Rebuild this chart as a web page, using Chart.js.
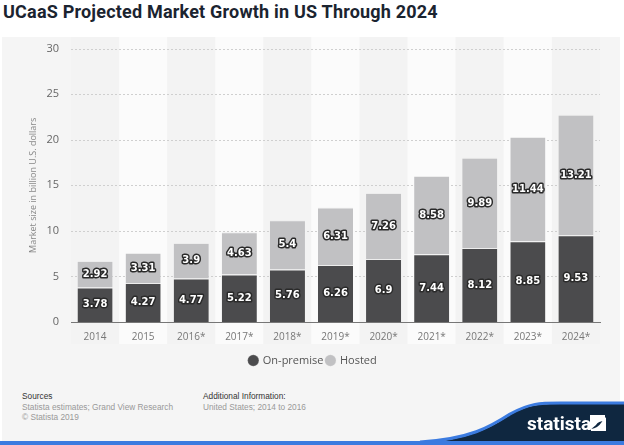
<!DOCTYPE html>
<html>
<head>
<meta charset="utf-8">
<script src="https://cdn.jsdelivr.net/npm/chart.js@4"></script>
<style>
  body { margin: 0; width: 624px; height: 445px; background: #fff; position: relative; overflow: hidden; font-family: "Open Sans", sans-serif; }
  #title { position: absolute; left: 3px; top: 1px; font: bold 18px Roboto, sans-serif; color: #1b2430; letter-spacing: 0.2px; }
  #panel { position: absolute; left: 2px; top: 37px; width: 618px; height: 408px; background: #f5f5f5; }
  #wrap { position: absolute; left: 2px; top: 30px; width: 618px; height: 346px; }
  .foot { position: absolute; font: 8.3px "Liberation Sans", sans-serif; line-height: 10.5px; color: #999; }
  .foot b { font-weight: normal; color: #333; }
  #bar { position: absolute; left: 0; top: 441px; width: 624px; height: 4px; background: #3b7be0; }
  #logo { position: absolute; left: 0; top: 0; }
</style>
</head>
<body>
<div id="title">UCaaS Projected Market Growth in US Through 2024</div>
<div id="panel"></div>
<div id="wrap"><canvas id="chart"></canvas></div>
<div class="foot" style="left:22px; top:391px;"><b>Sources</b><br>Statista estimates; Grand View Research<br>© Statista 2019</div>
<div class="foot" style="left:203px; top:391px;"><b>Additional Information:</b><br>United States; 2014 to 2016</div>
<svg id="logo" width="624" height="445">
  <path d="M420 443 C470 440 490 428 510 415 C530 404 540 404 560 404 L624 404 L624 443 Z" fill="#0f2740"/>
  <path d="M420 442 C470 439 490 427 510 414 C530 403 540 403 560 403 L624 403" fill="none" stroke="#3b7be0" stroke-width="3"/>
  <text x="527" y="430" fill="#fff" font-family="Roboto, sans-serif" font-weight="bold" font-size="19">statista</text>
  <path d="M590 415 L605 415 L605 421 Q598 421 596 425 L590 430 Z M606 417 L606 431 L591 431 L591 429 Q598 428 601 423 Z" fill="#fff"/>
</svg>
<div id="bar"></div>
<script>
const categories = ['2014', '2015', '2016*', '2017*', '2018*', '2019*', '2020*', '2021*', '2022*', '2023*', '2024*'];
const onPremise = [3.78, 4.27, 4.77, 5.22, 5.76, 6.26, 6.9, 7.44, 8.12, 8.85, 9.53];
const hosted = [2.92, 3.31, 3.9, 4.63, 5.4, 6.31, 7.26, 8.58, 9.89, 11.44, 13.21];
const yTicks = [0, 5, 10, 15, 20, 25, 30];

// alternating column shading, drawn before the axes and grid
const bandPlugin = {
    id: 'bands',
    beforeDraw(chart) {
        const ctx = chart.ctx;
        const x = chart.scales.x;
        const area = chart.chartArea;
        const w = x.width / categories.length;
        ctx.save();
        categories.forEach((c, i) => {
            ctx.fillStyle = i % 2 ? '#fbfbfb' : '#f3f3f3';
            ctx.fillRect(x.getPixelForValue(i) - w / 2, 7, w, area.bottom + 15);
        });
        ctx.restore();
    }
};

// dotted horizontal guide lines at each tick
const gridPlugin = {
    id: 'dotGrid',
    beforeDatasetsDraw(chart) {
        const ctx = chart.ctx;
        const y = chart.scales.y;
        const area = chart.chartArea;
        ctx.save();
        ctx.strokeStyle = '#cfcfcf';
        ctx.lineWidth = 1;
        ctx.setLineDash([2, 2]);
        yTicks.slice(1).forEach(v => {
            const py = Math.round(y.getPixelForValue(v)) + 0.5;
            ctx.beginPath();
            ctx.moveTo(area.left, py);
            ctx.lineTo(area.right, py);
            ctx.stroke();
        });
        ctx.restore();
    }
};

// white value labels with dark outline in each segment
const labelPlugin = {
    id: 'barLabels',
    afterDatasetsDraw(chart) {
        const ctx = chart.ctx;
        ctx.save();
        ctx.font = 'bold 10px "DejaVu Sans", sans-serif';
        ctx.textAlign = 'center';
        ctx.textBaseline = 'middle';
        ctx.lineJoin = 'round';
        chart.data.datasets.forEach((ds, di) => {
            chart.getDatasetMeta(di).data.forEach((bar, i) => {
                const y = (bar.y + bar.base) / 2;
                ctx.lineWidth = 3;
                ctx.strokeStyle = '#2a2a2a';
                ctx.strokeText(String(ds.data[i]), bar.x, y);
                ctx.fillStyle = '#fff';
                ctx.fillText(String(ds.data[i]), bar.x, y);
            });
        });
        ctx.restore();
    }
};

new Chart(document.getElementById('chart'), {
    type: 'bar',
    data: {
        labels: categories,
        datasets: [{
            label: 'On-premise',
            data: onPremise,
            backgroundColor: '#4b4b4d',
            borderColor: '#ededed',
            borderWidth: { top: 1, left: 0, right: 0, bottom: 0 },
            barPercentage: 0.73,
            categoryPercentage: 1
        }, {
            label: 'Hosted',
            data: hosted,
            backgroundColor: '#c1c1c3',
            borderColor: '#ededed',
            borderWidth: { top: 1, left: 0, right: 0, bottom: 0 },
            barPercentage: 0.73,
            categoryPercentage: 1
        }]
    },
    options: {
        responsive: true,
        maintainAspectRatio: false,
        animation: false,
        layout: { padding: { left: 24, right: 20, top: 3, bottom: 0 } },
        scales: {
            x: {
                stacked: true,
                grid: { display: false, drawTicks: false },
                border: { display: true, color: '#777', width: 1 },
                ticks: { color: '#777', font: { family: 'Open Sans', size: 10 }, padding: 9 }
            },
            y: {
                stacked: true,
                min: 0,
                max: 30,
                afterBuildTicks: s => { s.ticks = yTicks.map(v => ({ value: v })); },
                afterFit: s => { s.width = 45; },
                grid: { display: false, drawTicks: false },
                border: { display: false },
                ticks: { color: '#666', font: { family: 'Open Sans', size: 11 }, padding: 12 },
                title: { display: true, text: 'Market size in billion U.S. dollars', color: '#888', font: { family: 'Open Sans', size: 9 }, padding: 2 }
            }
        },
        plugins: {
            legend: {
                position: 'bottom',
                labels: { usePointStyle: true, pointStyle: 'circle', boxWidth: 8, boxHeight: 8, color: '#555', font: { family: 'Open Sans', size: 11 }, padding: 3 }
            },
            tooltip: { enabled: false }
        }
    },
    plugins: [bandPlugin, gridPlugin, labelPlugin]
});
</script>
</body>
</html>
